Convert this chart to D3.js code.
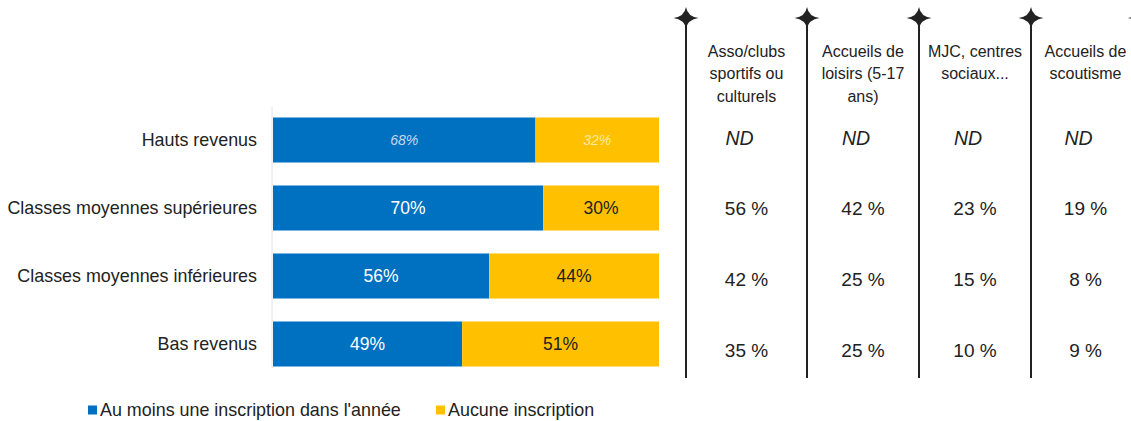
<!DOCTYPE html>
<html>
<head>
<meta charset="utf-8">
<script src="https://cdn.jsdelivr.net/npm/d3@7"></script>
<style>
  body { margin: 0; background: #fff; }
  text { font-family: "Liberation Sans", Arial, sans-serif; }
</style>
</head>
<body>
<div id="chart"></div>
<script>
const width = 1131,
      height = 421;

// data
const categories = ["Hauts revenus", "Classes moyennes supérieures", "Classes moyennes inférieures", "Bas revenus"];
const inscrits = [68, 70, 56, 49];
const aucune = [32, 30, 44, 51];
const seriesNames = ["Au moins une inscription dans l'année", "Aucune inscription"];
const columns = [["Asso/clubs", "sportifs ou", "culturels"], ["Accueils de", "loisirs (5-17", "ans)"], ["MJC, centres", "sociaux..."], ["Accueils de", "scoutisme"]];
const assoClubs = [null, 56, 42, 35];
const accueilsLoisirs = [null, 42, 25, 25];
const mjc = [null, 23, 15, 10];
const scoutisme = [null, 19, 8, 9];
const tableValues = [assoClubs, accueilsLoisirs, mjc, scoutisme];

const blue = "#0070C0",
      yellow = "#FFC000",
      ink = "#222";

const svg = d3.select("#chart")
  .append("svg")
  .attr("width", width)
  .attr("height", height);

// scales
const y = d3.scaleBand()
  .domain(categories)
  .range([106, 378])
  .paddingInner(0.338)
  .paddingOuter(0.169);

const x = d3.scaleLinear()
  .domain([0, 100])
  .range([273, 659]);

// faint axis line
svg.append("line")
  .attr("x1", x(0) - 1).attr("x2", x(0) - 1)
  .attr("y1", 107).attr("y2", 368)
  .attr("stroke", "#e4e4e4")
  .attr("stroke-width", 1);

// category labels
svg.append("g")
  .selectAll("text")
  .data(categories)
  .enter()
  .append("text")
  .attr("x", 257)
  .attr("y", (d) => y(d) + y.bandwidth() / 2)
  .attr("text-anchor", "end")
  .attr("dominant-baseline", "central")
  .style("font-size", "17.9px")
  .style("fill", ink)
  .text((d) => d);

// bars
const rows = svg.append("g")
  .selectAll(".row")
  .data(categories)
  .enter()
  .append("g")
  .attr("class", "row");

rows.append("rect")
  .attr("x", x(0))
  .attr("y", (d) => y(d))
  .attr("width", (d, i) => x(inscrits[i]) - x(0))
  .attr("height", y.bandwidth())
  .attr("fill", blue);

rows.append("rect")
  .attr("x", (d, i) => x(inscrits[i]))
  .attr("y", (d) => y(d))
  .attr("width", (d, i) => x(inscrits[i] + aucune[i]) - x(inscrits[i]))
  .attr("height", y.bandwidth())
  .attr("fill", yellow);

rows.append("text")
  .attr("x", (d, i) => x(inscrits[i] / 2))
  .attr("y", (d) => y(d) + y.bandwidth() / 2)
  .attr("text-anchor", "middle")
  .attr("dominant-baseline", "central")
  .style("font-size", (d, i) => i === 0 ? "14px" : "17.5px")
  .style("font-style", (d, i) => i === 0 ? "italic" : "normal")
  .style("fill", (d, i) => i === 0 ? "#c8d8ec" : "#fff")
  .text((d, i) => inscrits[i] + "%");

rows.append("text")
  .attr("x", (d, i) => x(inscrits[i] + aucune[i] / 2))
  .attr("y", (d) => y(d) + y.bandwidth() / 2)
  .attr("text-anchor", "middle")
  .attr("dominant-baseline", "central")
  .style("font-size", (d, i) => i === 0 ? "14px" : "17.5px")
  .style("font-style", (d, i) => i === 0 ? "italic" : "normal")
  .style("fill", (d, i) => i === 0 ? "#ffe9a6" : ink)
  .text((d, i) => aucune[i] + "%");

// legend
const legend = svg.append("g")
  .selectAll("g")
  .data(seriesNames)
  .enter()
  .append("g")
  .attr("transform", (d, i) => `translate(${i === 0 ? 88 : 436}, 410)`);

legend.append("rect")
  .attr("x", 0)
  .attr("y", -4.5)
  .attr("width", 9)
  .attr("height", 9)
  .attr("fill", (d, i) => i === 0 ? blue : yellow);

legend.append("text")
  .attr("x", 12)
  .attr("y", 0)
  .attr("dominant-baseline", "central")
  .style("font-size", "17.9px")
  .style("fill", ink)
  .text((d) => d);

// table on the right
const colLeft = d3.scaleOrdinal()
  .domain(d3.range(columns.length + 1))
  .range([686, 807, 919, 1031, 1140]);

const tableRow = d3.scalePoint()
  .domain(categories)
  .range([138, 350]);

const starPath = (cx, cy) => {
  const a = 12.5, b = 11, c = 1.5;
  return `M${cx - a},${cy} Q${cx - c},${cy - c} ${cx},${cy - b} Q${cx + c},${cy - c} ${cx + a},${cy}` +
         ` Q${cx + c},${cy + c} ${cx},${cy + b} Q${cx - c},${cy + c} ${cx - a},${cy} Z`;
};

const seps = svg.append("g")
  .selectAll("g")
  .data(d3.range(columns.length + 1))
  .enter()
  .append("g");

seps.append("line")
  .attr("x1", (d) => colLeft(d))
  .attr("x2", (d) => colLeft(d))
  .attr("y1", 18)
  .attr("y2", 378)
  .attr("stroke", ink)
  .attr("stroke-width", 2);

seps.append("path")
  .attr("d", (d) => starPath(colLeft(d), 18))
  .attr("fill", ink);

const cols = svg.append("g")
  .selectAll(".col")
  .data(columns)
  .enter()
  .append("g")
  .attr("class", "col")
  .attr("transform", (d, i) => `translate(${(colLeft(i) + colLeft(i + 1)) / 2}, 0)`);

cols.selectAll(".head")
  .data((d) => d)
  .enter()
  .append("text")
  .attr("class", "head")
  .attr("x", 0)
  .attr("y", (d, i) => 51 + i * 22.5)
  .attr("text-anchor", "middle")
  .attr("dominant-baseline", "central")
  .style("font-size", "16px")
  .style("fill", ink)
  .text((d) => d);

cols.selectAll(".val")
  .data((d, i) => tableValues[i])
  .enter()
  .append("text")
  .attr("class", "val")
  .attr("x", (d) => d === null ? -7 : 0)
  .attr("y", (d, i) => tableRow(categories[i]))
  .attr("text-anchor", "middle")
  .attr("dominant-baseline", "central")
  .style("font-size", (d) => d === null ? "19.5px" : "19px")
  .style("font-style", (d) => d === null ? "italic" : "normal")
  .style("fill", ink)
  .text((d) => d === null ? "ND" : d + " %");
</script>
</body>
</html>
